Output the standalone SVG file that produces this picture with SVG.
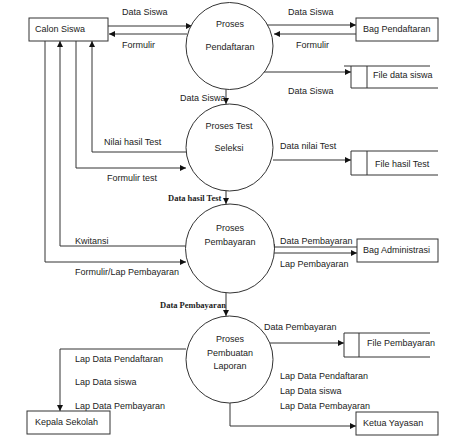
<svg xmlns="http://www.w3.org/2000/svg" width="474" height="439" viewBox="0 0 474 439">
<style>
text{font-family:"Liberation Sans",Arial,sans-serif;font-size:9px;fill:#222}
.s{font-family:"Liberation Serif","Times New Roman",serif;font-size:8.5px;font-weight:bold}
.c{text-anchor:middle}
.b{fill:#fff;stroke:#333;stroke-width:1}
.l{fill:none;stroke:#333;stroke-width:1}
.a{fill:none;stroke:#333;stroke-width:1;marker-end:url(#ah)}
</style>
<defs>
<marker id="ah" viewBox="0 0 6 6" refX="6" refY="3" markerWidth="6" markerHeight="6" markerUnits="userSpaceOnUse" orient="auto">
<path d="M0,0 L6,3 L0,6 Z" fill="#111"/>
</marker>
</defs>
<rect width="474" height="439" fill="#fff"/>
<g id="connectors">
<path class="a" d="M108,26 H192"/>
<path class="a" d="M187,34 H109"/>
<path class="a" d="M264,25 H356"/>
<path class="a" d="M356,34 H274"/>
<path class="a" d="M264,72 H351"/>
<path class="a" d="M226,89 V104"/>
<path class="a" d="M186,152 H92 V41"/>
<path class="a" d="M76,41 V168 H186"/>
<path class="a" d="M273,160 H351"/>
<path class="a" d="M226,191 V204"/>
<path class="a" d="M186,246 H60 V41"/>
<path class="a" d="M45,41 V262 H186"/>
<path class="a" d="M357,247 H269"/>
<path class="a" d="M273,253 H357"/>
<path class="a" d="M226,293 V316"/>
<path class="a" d="M186,349 H60 V411"/>
<path class="a" d="M270,343 H344"/>
<path class="a" d="M230,403 V426 H356"/>
<text x="122" y="15">Data Siswa</text>
<text x="122" y="48">Formulir</text>
<text x="288" y="15">Data Siswa</text>
<text x="296" y="48">Formulir</text>
<text x="288" y="94">Data Siswa</text>
<text x="180" y="101">Data Siswa</text>
<text x="104" y="145">Nilai hasil Test</text>
<text x="107" y="181">Formulir test</text>
<text x="280" y="149">Data nilai Test</text>
<text class="s" x="168" y="201">Data hasil Test</text>
<text x="75" y="244">Kwitansi</text>
<text x="75" y="275">Formulir/Lap Pembayaran</text>
<text x="280" y="244">Data Pembayaran</text>
<text x="280" y="267">Lap Pembayaran</text>
<text class="s" x="160" y="308">Data Pembayaran</text>
<text x="264" y="330">Data  Pembayaran</text>
<text x="75" y="362">Lap Data  Pendaftaran</text>
<text x="75" y="385">Lap Data  siswa</text>
<text x="75" y="409">Lap Data  Pembayaran</text>
<text x="280" y="379">Lap Data  Pendaftaran</text>
<text x="280" y="394">Lap  Data  siswa</text>
<text x="280" y="409">Lap Data  Pembayaran</text>
</g>
<g id="calon-siswa">
<rect class="b" x="29" y="18" width="79" height="23"/>
<text x="35" y="32">Calon Siswa</text>
</g>
<g id="bag-pendaftaran">
<rect class="b" x="356" y="18" width="82" height="23"/>
<text x="363" y="32">Bag Pendaftaran</text>
</g>
<g id="file-data-siswa">
<path class="l" d="M344,66 H430 M351,88 H438 M351,66 V88 M367,66 V88"/>
<text x="373" y="78">File data siswa</text>
</g>
<g id="proses-pendaftaran">
<circle class="b" cx="229.5" cy="46" r="43.5" fill="none"/>
<text class="c" x="230" y="27">Proses</text>
<text class="c" x="230" y="50">Pendaftaran</text>
</g>
<g id="proses-test-seleksi">
<circle class="b" cx="229.5" cy="147.5" r="43.5" fill="none"/>
<text class="c" x="229" y="129">Proses Test</text>
<text class="c" x="229" y="151">Seleksi</text>
</g>
<g id="file-hasil-test">
<path class="l" d="M351,151 H438 M351,175 H438 M351,151 V175 M367,151 V175"/>
<text x="375" y="167">File hasil Test</text>
</g>
<g id="proses-pembayaran">
<circle class="b" cx="230" cy="248.5" r="44.5"/>
<text class="c" x="230" y="231">Proses</text>
<text class="c" x="230" y="245">Pembayaran</text>
</g>
<g id="bag-administrasi">
<rect class="b" x="357" y="239" width="81" height="23"/>
<text x="363" y="253">Bag Administrasi</text>
</g>
<g id="proses-pembuatan-laporan">
<circle class="b" cx="229.5" cy="359.5" r="43.5"/>
<text class="c" x="230" y="342">Proses</text>
<text class="c" x="230" y="356">Pembuatan</text>
<text class="c" x="230" y="369">Laporan</text>
</g>
<g id="file-pembayaran">
<path class="l" d="M344,333 H430 M344,357 H430 M344,333 V357 M359,333 V357"/>
<text x="367" y="346">File Pembayaran</text>
</g>
<g id="kepala-sekolah">
<rect class="b" x="27" y="411" width="83" height="23"/>
<text x="35" y="425">Kepala Sekolah</text>
</g>
<g id="ketua-yayasan">
<rect class="b" x="356" y="412" width="82" height="23"/>
<text x="363" y="426">Ketua Yayasan</text>
</g>
</svg>
